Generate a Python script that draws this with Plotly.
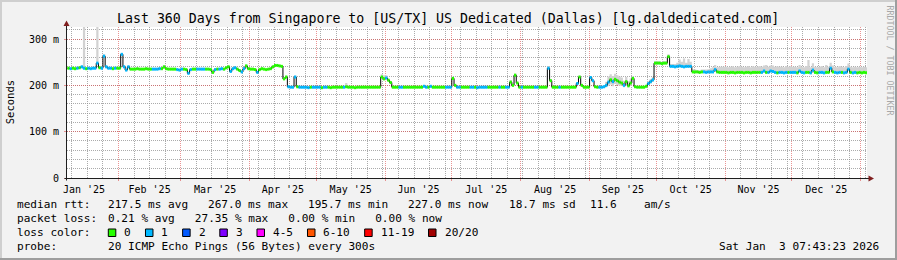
import plotly.graph_objects as go
import pandas as pd

# ---------------- DATA ----------------
START_DAY = "2025-01-09"          # first daily sample
X_RANGE = ["2025-01-08 20:00", "2026-01-03 20:00"]

TITLE = "Last 360 Days from Singapore to [US/TX] US Dedicated (Dallas) [lg.daldedicated.com]"

# median rtt in ms, one value per day
median_jan = [237,236,237,236,237,238,240,237,236,237,236,237,237,248,238,237,263,240,237,237,236,237,237]
median_feb = [237,267,240,233,240,235,235,235,236,235,235,235,236,235,235,235,235,235,236,236,240,236,235,235,235,235,234,233]
median_mar = [235,235,234,226,234,235,235,235,235,235,235,235,235,234,228,234,235,235,236,235,238,240,230,236,238,235,232,229,236,242,236]
median_apr = [235,235,234,228,234,236,235,234,235,236,240,243,243,242,241,214,218,197,196,196,218,197,196,196,196,196,195,196,196,196]
median_may = [196,196,195,196,196,196,195,196,196,196,196,196,196,197,196,196,196,195,196,196,196,196,196,196,196,196,196,196,196,218,214]
median_jun = [216,211,206,196,196,196,196,196,196,196,196,196,196,196,196,196,196,198,196,196,198,196,196,196,196,196,196,196,196,196]
median_jul = [215,200,196,196,196,196,196,196,196,196,196,195,196,196,196,196,196,196,196,196,196,196,196,196,196,196,207,200,222,205,196]
median_aug = [196,196,196,196,196,196,196,196,196,196,196,196,237,210,196,196,196,196,196,196,196,196,196,196,196,204,218,200,196,196,196]
median_sep = [217,210,197,196,196,196,197,200,207,212,208,213,210,207,205,200,208,199,205,215,197,196,196,196,196,198,204,208,212,248]
median_oct = [248,248,247,248,248,262,241,241,240,241,242,241,240,241,241,241,229,229,229,228,229,229,228,229,229,229,234,229,228,228,228]
median_nov = [228,227,228,228,227,228,228,228,227,228,228,227,228,228,228,228,228,231,228,228,231,230,228,227,228,228,227,228,228,228]
median_dec = [228,228,227,231,228,227,228,228,227,233,228,227,228,228,227,228,228,237,229,228,227,228,228,227,228,235,228,227,228,227,228]
median_jan26 = [227,228,227]

# lost pings (of 20) per day
loss_jan = [0,1,0,0,1,0,1,1,0,1,1,1,1,1,0,1,1,1,1,1,0,1,0]
loss_feb = [0,1,1,1,1,0,0,0,0,0,0,0,0,0,0,1,1,1,1,0,0,0,0,0,0,0,1,1]
loss_mar = [1,0,0,1,1,0,0,1,1,1,1,0,0,0,0,1,0,1,1,0,0,0,1,1,1,0,0,1,1,0,0]
loss_apr = [0,0,0,1,0,0,0,0,0,0,0,0,0,0,0,0,0,1,1,1,1,0,1,1,1,1,1,0,1,1]
loss_may = [1,1,0,1,1,0,0,0,0,0,0,0,1,0,0,0,0,0,0,0,0,0,0,0,0,0,0,0,0,0,0]
loss_jun = [1,0,0,0,0,0,1,1,0,0,0,0,0,0,0,0,0,1,1,0,1,0,0,0,0,0,0,1,1,1]
loss_jul = [0,0,1,1,0,0,0,0,1,1,0,1,1,1,1,1,0,0,0,0,0,1,0,0,1,1,0,0,0,0,0]
loss_aug = [1,0,0,0,0,0,1,1,0,0,0,0,1,0,0,0,0,1,0,0,0,0,0,0,0,1,0,0,0,0,0]
loss_sep = [1,1,0,0,1,1,1,1,1,0,1,0,0,0,0,1,0,0,0,0,0,0,0,0,0,0,1,1,1,0]
loss_oct = [0,0,0,0,0,0,1,1,1,1,1,1,1,1,1,1,0,0,0,0,0,1,1,1,1,1,1,0,0,0,0]
loss_nov = [0,0,0,0,0,0,0,0,0,0,0,0,0,0,0,0,1,1,0,1,1,1,1,0,1,1,1,1,0,1]
loss_dec = [1,1,0,1,1,1,0,0,1,1,0,0,1,1,1,0,0,1,0,1,1,1,0,1,1,1,0,1,1,0,0]
loss_jan26 = [0,0,0]

# smoke spread above / below the median (ms)
smoke_up_jan = [2,2,2,2,2,2,3,150,2,2,2,2,2,150,3,2,4,3,2,2,2,2,2]
smoke_up_feb = [2,3,3,2,3,2,2,2,2,2,2,2,2,2,2,2,2,2,2,2,3,2,2,2,2,2,2,2]
smoke_up_mar = [2,2,2,3,2,2,2,2,2,2,2,2,2,2,3,2,2,2,2,2,2,3,2,2,2,2,2,3,2,3,2]
smoke_up_apr = [2,2,2,3,2,2,2,2,2,2,2,3,2,2,2,3,3,2,2,2,3,2,2,2,2,2,2,2,2,2]
smoke_up_may = [2,2,2,2,2,2,2,2,2,2,2,2,2,8,2,2,2,2,2,2,2,2,2,2,2,2,2,2,2,6,8]
smoke_up_jun = [6,4,3,2,2,2,2,2,2,2,2,2,2,2,2,2,2,3,2,2,3,2,2,2,2,2,2,2,2,2]
smoke_up_jul = [3,2,2,2,2,2,2,2,2,2,2,2,2,2,2,2,2,2,2,2,2,2,2,2,2,2,4,4,3,3,2]
smoke_up_aug = [2,2,2,2,2,2,2,2,2,2,2,2,5,4,2,2,2,2,2,2,3,2,2,2,2,3,3,2,2,2,2]
smoke_up_sep = [3,3,2,2,2,2,4,8,12,12,12,12,12,12,12,10,10,10,10,4,2,2,2,2,2,3,5,6,6,4]
smoke_up_oct = [4,4,4,4,4,5,5,5,6,8,14,10,18,8,16,10,6,5,4,4,5,5,6,6,8,10,10,10,12,12,12]
smoke_up_nov = [12,12,12,13,12,12,14,12,12,12,14,12,13,12,12,14,12,12,16,12,12,13,12,14,12,12,12,14,12,13]
smoke_up_dec = [12,12,12,13,12,12,14,27,12,15,12,12,12,14,12,16,12,12,14,12,12,14,12,12,14,12,12,12,12,12,12]
smoke_up_jan26 = [12,12,12]

smoke_dn_jan = [1,1,1,1,1,1,1,1,1,1,1,1,1,1,1,1,1,1,1,1,1,1,1]
smoke_dn_feb = [1,1,1,1,1,1,1,1,1,1,1,1,1,1,1,1,1,1,1,1,1,1,1,1,1,1,1,1]
smoke_dn_mar = [1,1,1,1,1,1,1,1,1,1,1,1,1,1,1,1,1,1,1,1,1,1,1,1,1,1,1,1,1,1,1]
smoke_dn_apr = [1,1,1,1,1,1,1,1,1,1,1,1,1,1,1,1,1,1,1,1,1,1,1,1,1,1,1,1,1,1]
smoke_dn_may = [1,1,1,1,1,1,1,1,1,1,1,1,1,1,1,1,1,1,1,1,1,1,1,1,1,1,1,1,1,1,1]
smoke_dn_jun = [1,1,1,1,1,1,1,1,1,1,1,1,1,1,1,1,1,1,1,1,1,1,1,1,1,1,1,1,1,1]
smoke_dn_jul = [1,1,1,1,1,1,1,1,1,1,1,1,1,1,1,1,1,1,1,1,1,1,1,1,1,1,1,1,1,1,1]
smoke_dn_aug = [1,1,1,1,1,1,1,1,1,1,1,1,1,1,1,1,1,1,1,1,1,1,1,1,1,1,1,1,1,1,1]
smoke_dn_sep = [1,1,1,1,1,1,2,4,8,10,10,10,9,8,6,4,8,3,6,2,1,1,1,1,1,1,3,4,4,1]
smoke_dn_oct = [1,1,1,1,1,1,1,1,1,1,2,1,2,1,2,1,1,1,1,1,1,1,1,1,1,2,2,2,2,2,2]
smoke_dn_nov = [2,2,2,2,2,2,2,2,2,2,2,2,2,2,2,2,2,2,2,2,2,2,2,2,2,2,2,2,2,2]
smoke_dn_dec = [2,2,2,2,2,2,2,2,2,2,2,2,2,2,2,2,2,2,2,2,2,2,2,2,2,2,2,2,2,2,2]
smoke_dn_jan26 = [2,2,2]

Y_TICK_VALS = [0, 100, 200, 300]
Y_TICK_TEXT = ["0", "100 m", "200 m", "300 m"]

LOSS_LABELS = ["0", "1", "2", "3", "4-5", "6-10", "11-19", "20/20"]
LOSS_COLORS = ["#26ff00", "#00b8ff", "#0059ff", "#7e00ff", "#ff00ff", "#ff5500", "#ff0000", "#a10000"]
LOSS_UPPER = [0, 1, 2, 3, 5, 10, 19, 20]

STAT_LABELS = ["median rtt:", "packet loss:", "loss color:", "probe:"]
MEDIAN_STATS = ["217.5 ms avg", "267.0 ms max", "195.7 ms min", "227.0 ms now", "18.7 ms sd", "11.6", "am/s"]
LOSS_STATS = "0.21 % avg   27.35 % max   0.00 % min   0.00 % now"
PROBE_TEXT = "20 ICMP Echo Pings (56 Bytes) every 300s"
STAMP_TEXT = "Sat Jan  3 07:43:23 2026"
WATERMARK = "RRDTOOL / TOBI OETIKER"

# ---------------- BUILD ----------------
median_ms = (median_jan + median_feb + median_mar + median_apr + median_may + median_jun +
             median_jul + median_aug + median_sep + median_oct + median_nov + median_dec + median_jan26)
loss = (loss_jan + loss_feb + loss_mar + loss_apr + loss_may + loss_jun + loss_jul + loss_aug +
        loss_sep + loss_oct + loss_nov + loss_dec + loss_jan26)
smoke_up = (smoke_up_jan + smoke_up_feb + smoke_up_mar + smoke_up_apr + smoke_up_may + smoke_up_jun +
            smoke_up_jul + smoke_up_aug + smoke_up_sep + smoke_up_oct + smoke_up_nov + smoke_up_dec + smoke_up_jan26)
smoke_dn = (smoke_dn_jan + smoke_dn_feb + smoke_dn_mar + smoke_dn_apr + smoke_dn_may + smoke_dn_jun +
            smoke_dn_jul + smoke_dn_aug + smoke_dn_sep + smoke_dn_oct + smoke_dn_nov + smoke_dn_dec + smoke_dn_jan26)

n = len(median_ms)
dates = list(pd.date_range(START_DAY, periods=n, freq="D"))
one_day = pd.Timedelta(days=1)
dates_ext = dates + [dates[-1] + one_day]

W, H = 897, 260
L, R, T, B = 67, 30, 27, 82
PW, PH = W - L - R, H - T - B
FONT = "DejaVu Sans Mono"


def px(x):
    return (x - L) / PW


def py(y):
    return (H - B - y) / PH


def bucket(l):
    for k, up in enumerate(LOSS_UPPER):
        if l <= up:
            return k
    return len(LOSS_UPPER) - 1


fig = go.Figure()

# smoke band
lo = [m - d for m, d in zip(median_ms, smoke_dn)]
hi = [m + u for m, u in zip(median_ms, smoke_up)]
fig.add_trace(go.Scatter(x=dates_ext, y=lo + [lo[-1]], mode="lines", line=dict(width=0, shape="hv"),
                         hoverinfo="skip", showlegend=False))
fig.add_trace(go.Scatter(x=dates_ext, y=hi + [hi[-1]], mode="lines", line=dict(width=0, shape="hv"),
                         fill="tonexty", fillcolor="#d2d2d2", hoverinfo="skip", showlegend=False))

# black median step line
fig.add_trace(go.Scatter(x=dates_ext, y=median_ms + [median_ms[-1]], mode="lines",
                         line=dict(color="#000000", width=1, shape="hv"), showlegend=False))

# loss-coloured median segments
segs = {k: ([], []) for k in range(len(LOSS_LABELS))}
for d, m, l in zip(dates, median_ms, loss):
    b = bucket(l)
    segs[b][0].extend([d, d + one_day, None])
    segs[b][1].extend([m, m, None])
for k, (sx, sy) in segs.items():
    if sx:
        fig.add_trace(go.Scatter(x=sx, y=sy, mode="lines", line=dict(color=LOSS_COLORS[k], width=3),
                                 showlegend=False, connectgaps=False))

MAJOR = "rgba(222,79,79,0.6)"
MINOR = "rgba(143,143,143,0.75)"
DASH = "1px,1px"

annotations = []


def txt(x, y, s, size=11.1, anchor="left", color="black", angle=0):
    annotations.append(dict(x=px(x), y=py(y), xref="paper", yref="paper",
                            text=s.replace(" ", "\u00a0"), showarrow=False,
                            xanchor=anchor, yanchor="middle", textangle=angle,
                            borderpad=0, font=dict(family=FONT, size=size, color=color)))


txt(447.5, 19, TITLE, 13.25, "center")
txt(9.7, 102.5, "Seconds", 10.5, "center", angle=-90)
txt(889.5, 60, WATERMARK, 8.3, "center", color="#a8a8a8", angle=90)

rows = [204.3, 218.3, 232.3, 246.2]
for lab, ry in zip(STAT_LABELS, rows):
    txt(16, ry, lab)
med_x = [107.3, 207.3, 307.3, 407.3, 507.7, 589.3, 642.7]
for s, x in zip(MEDIAN_STATS, med_x):
    txt(x, rows[0], s)
txt(107.3, rows[1], LOSS_STATS)
txt(107.3, rows[3], PROBE_TEXT)
txt(880, rows[3], STAMP_TEXT, anchor="right")

shapes = []
CW = 6.67
sx = 108.3
for lab, col in zip(LOSS_LABELS, LOSS_COLORS):
    shapes.append(dict(type="rect", xref="paper", yref="paper", x0=px(sx), x1=px(sx + 7.5),
                       y0=py(236.5), y1=py(229), fillcolor=col, line=dict(color="black", width=1)))
    txt(sx + 15, rows[2], lab)
    sx += 30.5 + len(lab) * CW


# frame shading
def rect(x0, y0, x1, y1, color):
    shapes.append(dict(type="rect", xref="paper", yref="paper", x0=px(x0), x1=px(x1),
                       y0=py(y1), y1=py(y0), fillcolor=color, line=dict(width=0), layer="above"))


rect(0, 0, W, 2, "#cfcfcf")
rect(0, 0, 2, H, "#cfcfcf")
rect(0, H - 2, W, H, "#9e9e9e")
rect(W - 2, 0, W, H, "#9e9e9e")

# axes with arrows
AX = "#1f1f1f"
ARROW = "#801f1f"
shapes.append(dict(type="line", xref="paper", yref="paper", x0=px(66.5), x1=px(66.5),
                   y0=py(180.5), y1=py(24), line=dict(color=AX, width=1), layer="above"))
shapes.append(dict(type="line", xref="paper", yref="paper", x0=px(64.5), x1=px(869),
                   y0=py(178.5), y1=py(178.5), line=dict(color=AX, width=1), layer="above"))
shapes.append(dict(type="path", xref="paper", yref="paper",
                   path=f"M {px(63.5)} {py(26)} L {px(69.5)} {py(26)} L {px(66.5)} {py(20.5)} Z",
                   fillcolor=ARROW, line=dict(width=0), layer="above"))
shapes.append(dict(type="path", xref="paper", yref="paper",
                   path=f"M {px(868.5)} {py(175.5)} L {px(868.5)} {py(181.5)} L {px(874)} {py(178.5)} Z",
                   fillcolor=ARROW, line=dict(width=0), layer="above"))

fig.update_layout(
    width=W, height=H, margin=dict(l=L, r=R, t=T, b=B, autoexpand=False),
    paper_bgcolor="#f2f2f2", plot_bgcolor="#ffffff",
    showlegend=False, annotations=annotations, shapes=shapes,
    font=dict(family=FONT, size=10, color="black"),
    xaxis=dict(type="date", range=X_RANGE, dtick="M1", tick0="2025-01-01",
               ticklabelmode="period", tickformat="%b '%y",
               showgrid=True, gridcolor=MAJOR, griddash=DASH, gridwidth=1,
               ticks="outside", ticklen=2, tickcolor=MAJOR,
               minor=dict(dtick=7 * 86400000, tick0="2025-01-11", showgrid=True,
                          gridcolor=MINOR, griddash=DASH, ticks=""),
               showline=False, zeroline=False, automargin=False,
               tickfont=dict(family=FONT, size=10, color="black")),
    yaxis=dict(range=[0, 326], tickmode="array", tickvals=Y_TICK_VALS, ticktext=Y_TICK_TEXT,
               showgrid=True, gridcolor=MAJOR, griddash=DASH, gridwidth=1,
               ticks="outside", ticklen=2, tickcolor=MAJOR,
               minor=dict(tickmode="linear", tick0=0, dtick=20, showgrid=True,
                          gridcolor=MINOR, griddash=DASH, ticks=""),
               showline=False, zeroline=False, automargin=False,
               ticklabelstandoff=3,
               tickfont=dict(family=FONT, size=10, color="black")),
)

fig.write_html("out.html", config={"displayModeBar": False})
